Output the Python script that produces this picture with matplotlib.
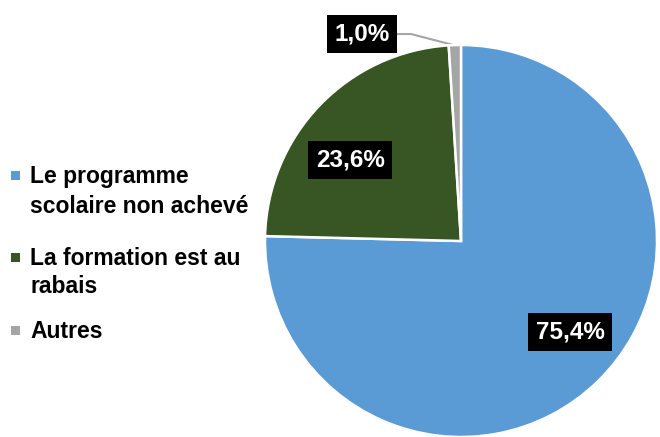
import matplotlib
matplotlib.use("Agg")
import matplotlib.pyplot as plt
from matplotlib.patches import Rectangle

categories = ["Le programme\nscolaire non achevé", "La formation est au\nrabais", "Autres"]
values = [75.4, 23.6, 1.0]
value_labels = ["75,4%", "23,6%", "1,0%"]
colors = ["#5B9BD5", "#375623", "#A5A5A5"]

W, H = 660, 437
fig = plt.figure(figsize=(W / 100, H / 100), dpi=100)
plt.rcParams['font.family'] = ['Liberation Sans', 'DejaVu Sans']

# pie axes: center (461, 241) px from top-left, radius 196
cx, cy, r = 461, 241, 196
ax = fig.add_axes([(cx - r) / W, (H - cy - r) / H, 2 * r / W, 2 * r / H])
wedges, _ = ax.pie(values, colors=colors, startangle=90, counterclock=False,
                   radius=1.0, wedgeprops=dict(edgecolor="white", linewidth=1.8))
ax.set_xlim(-1, 1)
ax.set_ylim(-1, 1)
ax.set_aspect("equal")
ax.axis("off")

label_pos = [(0.556, -0.464), (-0.566, 0.413), (-0.505, 1.056)]
for (x, y), t in zip(label_pos, value_labels):
    ax.text(x, y, t, ha="center", va="center", color="white", fontsize=17.5,
            fontweight="bold", clip_on=False,
            bbox=dict(boxstyle="square,pad=0.32", fc="black", ec="none"))

# leader line for small slice
ax.plot([-0.321, -0.255, -0.020], [1.056, 1.056, 0.995], color="#A5A5A5",
        lw=1.5, clip_on=False, zorder=0)

# legend drawn manually
baselines = [[183, 213], [265, 293], [338]]
for lab, col, bls in zip(categories, colors, baselines):
    lines = lab.split("\n")
    b0 = bls[0]
    fig.patches.append(Rectangle((11 / W, (H - b0 + 3) / H), 9 / W, 9 / H,
                                 transform=fig.transFigure, fc=col, ec="none"))
    for line, b in zip(lines, bls):
        fig.text(30 / W, (H - b) / H, line, ha="left", va="baseline",
                 fontsize=16.5, fontweight="bold", color="black")

fig.savefig("out.png", dpi=100)
